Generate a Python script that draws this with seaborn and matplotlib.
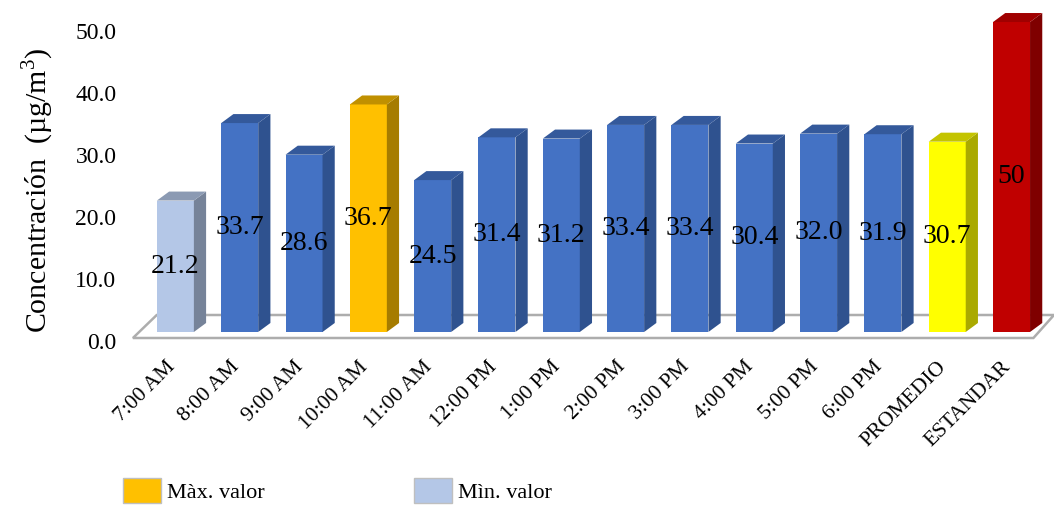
import matplotlib
matplotlib.use('Agg')
import matplotlib.pyplot as plt
import seaborn as sns
from matplotlib.patches import Polygon, Patch
from matplotlib.ticker import FormatStrFormatter
from matplotlib.transforms import ScaledTranslation

# Datos: concentración por hora
categories = ['7:00 AM', '8:00 AM', '9:00 AM', '10:00 AM', '11:00 AM', '12:00 PM',
              '1:00 PM', '2:00 PM', '3:00 PM', '4:00 PM', '5:00 PM', '6:00 PM',
              'PROMEDIO', 'ESTANDAR']
values = [21.2, 33.7, 28.6, 36.7, 24.5, 31.4, 31.2, 33.4, 33.4, 30.4, 32.0, 31.9, 30.7, 50]
value_labels = ['21.2', '33.7', '28.6', '36.7', '24.5', '31.4', '31.2', '33.4', '33.4',
                '30.4', '32.0', '31.9', '30.7', '50']
y_ticks = [0, 10, 20, 30, 40, 50]
legend_labels = ['Màx. valor', 'Mìn. valor']

# Colores (cara frontal, lateral, superior)
front = ['#B4C7E7'] + ['#4472C4'] * 2 + ['#FFC000'] + ['#4472C4'] * 8 + ['#FFFF00', '#C00000']
side = ['#768399'] + ['#2F528F'] * 2 + ['#A67C00'] + ['#2F528F'] * 8 + ['#AAAA00', '#7F0000']
top = ['#8B9AB3'] + ['#34599B'] * 2 + ['#C09000'] + ['#34599B'] * 8 + ['#C4C400', '#A00000']

sns.set_style('white')
plt.rcParams['font.family'] = ['Liberation Serif', 'DejaVu Serif']
plt.rcParams['mathtext.fontset'] = 'custom'
plt.rcParams['mathtext.rm'] = 'Liberation Serif'
plt.rcParams['text.color'] = 'black'
plt.rcParams['xtick.color'] = 'black'
plt.rcParams['ytick.color'] = 'black'

fig = plt.figure(figsize=(10.54, 5.05), dpi=100)
ax = fig.add_axes([122 / 1054, 1 - 345 / 505, 932 / 1054, 337 / 505])

n = len(categories)
bw = 0.575
dx, dy = 0.19, 1.45

# piso 3D
floor = Polygon([(-0.66, -0.97), (n - 0.66, -0.97), (n - 0.34, 2.74), (-0.29, 2.74)],
                closed=True, facecolor='white', edgecolor='#ADADAD', lw=1.8, zorder=0.5,
                clip_on=False)
ax.add_patch(floor)

sns.barplot(x=categories, y=values, hue=categories, palette=front, legend=False,
            width=bw, saturation=1, linewidth=0, ax=ax, zorder=2)

# caras lateral y superior
for p in ax.patches:
    if p is floor:
        continue
    x0 = p.get_x()
    x1 = x0 + p.get_width()
    h = p.get_height()
    i = int(round((x0 + x1) / 2))
    ax.add_patch(Polygon([(x1, 0), (x1 + dx, dy), (x1 + dx, h + dy), (x1, h)],
                         closed=True, facecolor=side[i], edgecolor='none', zorder=2,
                         clip_on=False))
    ax.add_patch(Polygon([(x0, h), (x1, h), (x1 + dx, h + dy), (x0 + dx, h + dy)],
                         closed=True, facecolor=top[i], edgecolor='none', zorder=2,
                         clip_on=False))
    ax.text((x0 + x1) / 2, h / 2, value_labels[i], ha='center', va='center',
            fontsize=20, color='black', zorder=5)

ax.set_xlim(-0.83, 13.66)
ax.set_ylim(-2.1, 52.26)
ax.set_yticks(y_ticks)
ax.yaxis.set_major_formatter(FormatStrFormatter('%.1f'))
ax.tick_params(axis='y', length=0, pad=4, labelsize=17)
ax.tick_params(axis='x', length=0, pad=9, labelsize=15.5)
ax.set_xticks(range(n))
ax.set_xticklabels(categories, rotation=45, ha='right', rotation_mode='anchor')
for lab in ax.get_yticklabels():
    lab.set_transform(lab.get_transform() + ScaledTranslation(0, -0.09, fig.dpi_scale_trans))
for lab in ax.get_xticklabels():
    lab.set_transform(lab.get_transform() + ScaledTranslation(-0.1, 0, fig.dpi_scale_trans))
ax.set_xlabel('')
ax.set_ylabel('')
for s in ax.spines.values():
    s.set_visible(False)

fig.text(38 / 1054, 1 - 190 / 505, 'Concentración  (µg/m$^{\\mathrm{3}}$)', rotation=90,
         ha='center', va='center', fontsize=21.5)

handles = [Patch(facecolor='#FFC000', edgecolor='#BFBFBF'),
           Patch(facecolor='#B4C7E7', edgecolor='#BFBFBF')]
fig.legend(handles, legend_labels, loc='lower left', bbox_to_anchor=(123 / 1054, 2 / 505),
           ncol=2, frameon=False, fontsize=16, handlelength=1.7, handleheight=1.35,
           handletextpad=0.3, columnspacing=6.7, borderpad=0, borderaxespad=0)

fig.savefig('out.png', dpi=100)
